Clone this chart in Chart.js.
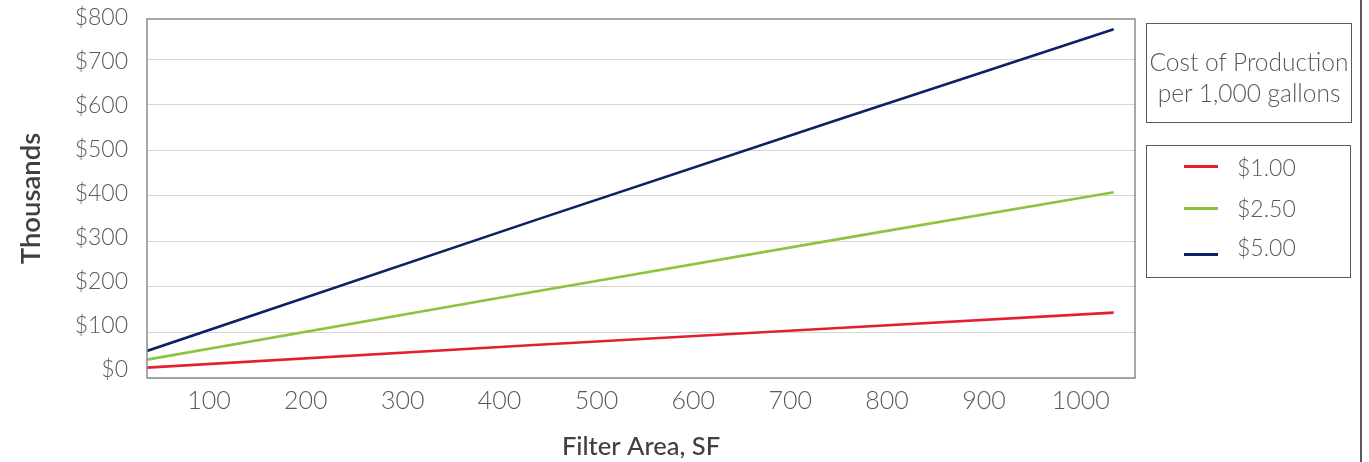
<!DOCTYPE html>
<html>
<head>
<meta charset="utf-8">
<script src="https://cdn.jsdelivr.net/npm/chart.js@4/dist/chart.umd.min.js"></script>
<style>
  html, body { margin: 0; padding: 0; background: #ffffff; }
  #wrap { position: relative; width: 1369px; height: 462px; overflow: hidden; font-family: Lato, "Open Sans", sans-serif; }
  #chartBox { position: absolute; left: 0; top: 0; width: 1369px; height: 462px; }
  #titleBox { position: absolute; left: 1146px; top: 23px; width: 206px; height: 100px; border: 1.5px solid #5a5a5a; box-sizing: border-box;
    display: flex; align-items: center; justify-content: center; text-align: center; padding-top: 8px;
    font-size: 24.5px; font-weight: 300; color: #595959; line-height: 31px; }
  #legendBox { position: absolute; left: 1146px; top: 145px; width: 203px; height: 131px; border: 1.5px solid #5a5a5a; }
  .lbl { position: absolute; left: 90px; height: 30px; line-height: 30px; font-size: 23px; font-weight: 300; color: #595959; }
  .swatch { position: absolute; left: 37px; width: 34px; height: 3px; }
  #edge { position: absolute; left: 1360px; top: 0; width: 1.5px; height: 462px; background: #5a5a5a; }
</style>
</head>
<body>
<div id="wrap">
  <div id="chartBox"><canvas id="c"></canvas></div>
  <div id="titleBox">Cost of Production<br>per 1,000 gallons</div>
  <div id="legendBox"></div>
  <div id="edge"></div>
</div>
<script>
// ---- data ----
const filterArea = [36, 440, 750, 1034];
const cost100 = [22.8, 73, 110, 143.7];
const cost250 = [40.4, 191, 305, 408];
const cost500 = [59.4, 349, 568, 766];
const seriesLabels = ['$1.00', '$2.50', '$5.00'];
const xTicks = [100, 200, 300, 400, 500, 600, 700, 800, 900, 1000];
const yTicks = [0, 100, 200, 300, 400, 500, 600, 700, 800];
const xTitle = 'Filter Area, SF';
const yTitle = 'Thousands';

const seriesColors = ['#e3202d', '#8cc43f', '#0b2263'];
const seriesValues = [cost100, cost250, cost500];

const datasets = seriesValues.map((vals, i) => ({
  label: seriesLabels[i],
  data: vals.map((v, j) => ({ x: filterArea[j], y: v })),
  borderColor: seriesColors[i],
  backgroundColor: seriesColors[i],
  borderWidth: 2.6,
  pointRadius: 0,
  tension: 0,
  fill: false
}));

const frame = {
  id: 'frame',
  afterDraw(chart) {
    const a = chart.chartArea, ctx = chart.ctx;
    ctx.save();
    ctx.strokeStyle = '#8c8c8c';
    ctx.lineWidth = 1.5;
    ctx.strokeRect(a.left, a.top, a.right - a.left, a.bottom - a.top);
    ctx.restore();
  }
};

const YMAX = 788.6;
const chart = new Chart(document.getElementById('c'), {
  type: 'line',
  data: { datasets },
  plugins: [frame],
  options: {
    responsive: true,
    maintainAspectRatio: false,
    animation: false,
    layout: { padding: { left: 0, top: 19, right: 234, bottom: 0 } },
    plugins: { legend: { display: false }, tooltip: { enabled: false } },
    scales: {
      x: {
        type: 'linear',
        min: 36,
        max: 1056,
        afterBuildTicks: (ax) => { ax.ticks = xTicks.map(v => ({ value: v })); },
        afterFit: (ax) => { ax.height = 84; },
        grid: { display: false, drawTicks: false },
        border: { display: false },
        ticks: {
          padding: 8,
          color: '#595959',
          font: { family: 'Lato', size: 25, weight: 300 },
          maxRotation: 0,
          autoSkip: false,
          callback: (v) => String(v)
        },
        title: {
          display: true,
          text: xTitle,
          color: '#404040',
          font: { family: 'Lato', size: 25.5, weight: 500 },
          padding: { top: 4, bottom: 0 }
        }
      },
      // value axis: gridlines only
      y: {
        type: 'linear',
        position: 'left',
        min: 0,
        max: YMAX,
        afterBuildTicks: (ax) => { ax.ticks = yTicks.filter(v => v <= YMAX).map(v => ({ value: v })); },
        afterFit: (ax) => { ax.width = 0; },
        grid: { drawTicks: false, lineWidth: 1, color: '#d6d6d6' },
        border: { display: false },
        ticks: { display: false }
      },
      // label axis: tick labels + title (label spacing as in the reference)
      yl: {
        type: 'linear',
        position: 'left',
        min: -18.2,
        max: 796.6,
        afterBuildTicks: (ax) => { ax.ticks = yTicks.map(v => ({ value: v })); },
        afterFit: (ax) => { ax.width = 147; },
        grid: {
          drawTicks: true,
          drawOnChartArea: false,
          tickLength: 19,
          tickColor: 'rgba(0,0,0,0)',
          color: 'rgba(0,0,0,0)'
        },
        border: { display: false },
        ticks: {
          padding: 0,
          color: '#595959',
          font: { family: 'Lato', size: 23, weight: 300 },
          autoSkip: false,
          callback: (v) => '$' + v
        },
        title: {
          display: true,
          text: yTitle,
          color: '#404040',
          font: { family: 'Lato', size: 27.5, weight: 600 },
          padding: { top: 15, bottom: 4 }
        }
      }
    }
  }
});

// legend built from the chart's datasets
const lb = document.getElementById('legendBox');
const textTops = [6, 47, 86];
const swatchTops = [19, 61, 107];
chart.data.datasets.forEach((ds, i) => {
  const sw = document.createElement('div');
  sw.className = 'swatch';
  sw.style.top = swatchTops[i] + 'px';
  sw.style.background = ds.borderColor;
  const t = document.createElement('div');
  t.className = 'lbl';
  t.style.top = textTops[i] + 'px';
  t.textContent = ds.label;
  lb.appendChild(sw); lb.appendChild(t);
});
</script>
</body>
</html>
